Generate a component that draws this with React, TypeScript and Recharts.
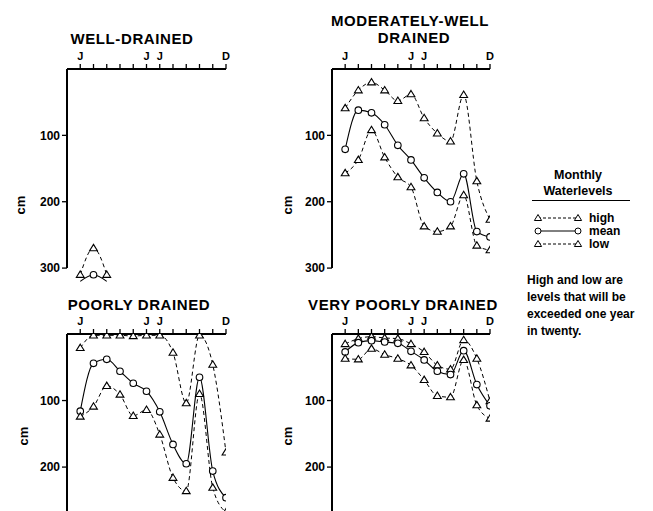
// Monthly waterlevels by drainage class
// Four small depth charts (0 cm at the top) and a legend

import React from 'react';
import { LineChart, Line, XAxis, YAxis, ReferenceLine } from 'recharts';

const FONT = '"Liberation Sans", Arial, sans-serif';

const monthIdx = [0, 1, 2, 3, 4, 5, 6, 7, 8, 9, 10, 11];
const monthTickLabels = ['J', '', '', '', '', 'J', 'J', '', '', '', '', 'D'];
const depthTicks = [100, 200, 300];

// well-drained: only Jan-Mar come up above the 300 cm mark
const wellHigh = [310, 270, 310];
const wellMean = [320, 310, 320];
const wellMeanMarked = [false, true, false];

const modHigh = [59, 32, 20, 32, 48, 38, 74, 97, 109, 39, 169, 227];
const modMean = [121, 62, 66, 84, 115, 137, 164, 186, 200, 158, 245, 253];
const modLow = [157, 137, 92, 133, 163, 178, 237, 245, 237, 190, 266, 273];

const poorHigh = [21, 2, 2, 2, 3, 2, 2, 28, 104, 2, 46, 178];
const poorMean = [116, 44, 38, 56, 74, 86, 117, 166, 195, 65, 206, 246];
const poorLow = [124, 109, 78, 91, 123, 114, 151, 216, 236, 90, 231, 268];

const vpHigh = [15, 7, 4, 6, 7, 15, 27, 47, 53, 9, 37, 101];
const vpMean = [27, 13, 10, 12, 14, 26, 39, 56, 61, 25, 76, 108];
const vpLow = [37, 38, 22, 31, 37, 47, 69, 93, 95, 39, 107, 127];

const TriDot = (props: any) => {
  const { cx, cy, index } = props;
  if (cx == null || cy == null) return <g key={`t-${index}`} />;
  return (
    <path
      key={`t-${index}`}
      d={`M${cx},${cy - 3.8} L${cx + 3.9},${cy + 2.6} L${cx - 3.9},${cy + 2.6} Z`}
      fill="#fff"
      stroke="#000"
      strokeWidth={1.1}
    />
  );
};

const CircleDot = (marked?: boolean[]) => (props: any) => {
  const { cx, cy, index } = props;
  if (cx == null || cy == null || (marked && !marked[index])) return <g key={`c-${index}`} />;
  return <circle key={`c-${index}`} cx={cx} cy={cy} r={3.3} fill="#fff" stroke="#000" strokeWidth={1.1} />;
};

interface PanelProps {
  left: number;
  top: number;
  width: number;
  height: number;
  marginLeft: number;
  yMax: number;
  axisEnd: number;
  high: number[];
  mean: number[];
  low?: number[];
  meanMarked?: boolean[];
}

const Panel: React.FC<PanelProps> = ({ left, top, width, height, marginLeft, yMax, axisEnd, high, mean, low, meanMarked }) => {
  const rows = high.map((h, i) => ({ m: i, high: h, mean: mean[i], low: low ? low[i] : undefined }));
  return (
    <div style={{ position: 'absolute', left, top }}>
      <LineChart width={width} height={height} data={rows} margin={{ top: 49, right: 14, left: marginLeft, bottom: 0 }}>
        <XAxis
          dataKey="m"
          type="number"
          orientation="top"
          domain={[-1, 11]}
          ticks={monthIdx}
          tickFormatter={(v: number) => monthTickLabels[v]}
          height={20}
          tickSize={5}
          tickMargin={4}
          axisLine={{ stroke: '#000', strokeWidth: 2 }}
          tickLine={{ stroke: '#000', strokeWidth: 1.3 }}
          tick={{ fill: '#000', fontSize: 11, fontWeight: 700, fontFamily: FONT }}
          allowDataOverflow
        />
        <YAxis
          type="number"
          reversed
          domain={[0, yMax]}
          ticks={depthTicks.filter((t) => t <= yMax)}
          width={40}
          tickSize={5}
          tickMargin={2}
          axisLine={false}
          tickLine={{ stroke: '#000', strokeWidth: 1.3 }}
          tick={{ fill: '#000', fontSize: 12, fontWeight: 700, fontFamily: FONT }}
          allowDataOverflow
        />
        <ReferenceLine
          segment={[{ x: -1, y: 0 }, { x: -1, y: axisEnd }]}
          stroke="#000"
          strokeWidth={2}
          ifOverflow="visible"
        />
        <Line dataKey="high" type="monotone" stroke="#000" strokeWidth={1} strokeDasharray="4 3" dot={TriDot} isAnimationActive={false} />
        <Line dataKey="mean" type="monotone" stroke="#000" strokeWidth={1.1} dot={CircleDot(meanMarked)} isAnimationActive={false} />
        {low && (
          <Line dataKey="low" type="monotone" stroke="#000" strokeWidth={1} strokeDasharray="4 3" dot={TriDot} isAnimationActive={false} />
        )}
      </LineChart>
    </div>
  );
};

const Title: React.FC<{ x: number; y: number; text: string }> = ({ x, y, text }) => (
  <div
    style={{
      position: 'absolute', left: x, top: y, transform: 'translate(-50%, -50%)',
      fontFamily: FONT, fontWeight: 700, fontSize: 15, letterSpacing: 0.6, whiteSpace: 'nowrap', color: '#000',
    }}
  >
    {text}
  </div>
);

const CmLabel: React.FC<{ x: number; y: number }> = ({ x, y }) => (
  <div
    style={{
      position: 'absolute', left: x, top: y, transform: 'translate(-50%, -50%) rotate(-90deg)',
      fontFamily: FONT, fontWeight: 700, fontSize: 13, color: '#000',
    }}
  >
    cm
  </div>
);

const LegendRow: React.FC<{ y: number; label: string; kind: 'tri' | 'circle' }> = ({ y, label, kind }) => (
  <div style={{ position: 'absolute', left: 533, top: y - 6, height: 12, display: 'flex', alignItems: 'center' }}>
    <svg width={50} height={12}>
      <line x1={5} y1={6} x2={45} y2={6} stroke="#000" strokeWidth={1} strokeDasharray={kind === 'tri' ? '3 2' : undefined} />
      {[5, 45].map((cx) =>
        kind === 'tri' ? (
          <path key={cx} d={`M${cx},${2.5} L${cx + 3.6},${8.5} L${cx - 3.6},${8.5} Z`} fill="#fff" stroke="#000" strokeWidth={1} />
        ) : (
          <circle key={cx} cx={cx} cy={6} r={3} fill="#fff" stroke="#000" strokeWidth={1} />
        )
      )}
    </svg>
    <span style={{ marginLeft: 6, fontFamily: FONT, fontWeight: 700, fontSize: 12, lineHeight: '12px' }}>{label}</span>
  </div>
);

export default function App() {
  return (
    <div style={{ position: 'absolute', left: 0, top: 0, width: 653, height: 511, overflow: 'hidden', background: '#fff' }}>
      <Title x={132} y={38} text="WELL-DRAINED" />
      <Title x={410} y={20} text="MODERATELY-WELL" />
      <Title x={414} y={37} text="DRAINED" />
      <Title x={139} y={304} text="POORLY DRAINED" />
      <Title x={403} y={304} text="VERY POORLY DRAINED" />

      <CmLabel x={20} y={205} />
      <CmLabel x={287} y={205} />
      <CmLabel x={23} y={436} />
      <CmLabel x={287} y={436} />

      <Panel left={0} top={0} width={240} height={288} marginLeft={27} yMax={330} axisEnd={300}
        high={wellHigh} mean={wellMean} meanMarked={wellMeanMarked} />
      <Panel left={290} top={0} width={214} height={288} marginLeft={2} yMax={330} axisEnd={300}
        high={modHigh} mean={modMean} low={modLow} />
      <Panel left={0} top={265} width={240} height={246} marginLeft={27} yMax={266} axisEnd={266}
        high={poorHigh} mean={poorMean} low={poorLow} />
      <Panel left={290} top={265} width={214} height={246} marginLeft={2} yMax={266} axisEnd={266}
        high={vpHigh} mean={vpMean} low={vpLow} />

      {/* legend */}
      <div style={{ position: 'absolute', left: 578, top: 175, transform: 'translate(-50%, -50%)', fontFamily: FONT, fontWeight: 700, fontSize: 12.5 }}>Monthly</div>
      <div style={{ position: 'absolute', left: 578, top: 191, transform: 'translate(-50%, -50%)', fontFamily: FONT, fontWeight: 700, fontSize: 12.5 }}>Waterlevels</div>
      <div style={{ position: 'absolute', left: 532, top: 200, width: 98, height: 0, borderTop: '1.5px solid #000' }} />
      <LegendRow y={218} label="high" kind="tri" />
      <LegendRow y={231} label="mean" kind="circle" />
      <LegendRow y={244} label="low" kind="tri" />
      {['High and low are', 'levels that will be', 'exceeded one year', 'in twenty.'].map((t, i) => (
        <div key={i} style={{ position: 'absolute', left: 527, top: 280 + i * 17, transform: 'translateY(-50%)', fontFamily: FONT, fontWeight: 700, fontSize: 12, whiteSpace: 'nowrap' }}>
          {t}
        </div>
      ))}
    </div>
  );
}
